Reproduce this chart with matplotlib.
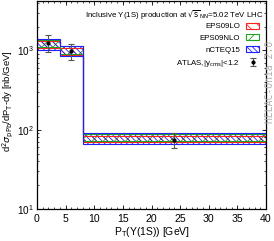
import numpy as np
import matplotlib
matplotlib.use('Agg')
import matplotlib.pyplot as plt
from matplotlib.patches import Patch

plt.rcParams['font.family'] = ['Liberation Sans', 'DejaVu Sans']
plt.rcParams['hatch.linewidth'] = 0.6

# pT bins [GeV]
bin_edges = [0, 4, 8, 40]

# theory bands (low, high) per bin [nb/GeV]
eps09lo_lo = [1060, 880, 70]
eps09lo_hi = [1300, 1080, 84]
eps09nlo_lo = [1100, 900, 72]
eps09nlo_hi = [1360, 1130, 89]
ncteq15_lo = [1020, 858, 66]
ncteq15_hi = [1400, 1146, 92]

# ATLAS data
atlas_x = [2, 6, 24]
atlas_y = [1250, 970, 74]
atlas_err_lo = [300, 206, 16]
atlas_err_hi = [310, 220, 17]


def draw_band(ax, lo, hi, color, hatch, label):
    x = np.array(bin_edges)
    lo_s = np.append(lo, lo[-1])
    hi_s = np.append(hi, hi[-1])
    ax.fill_between(x, lo_s, hi_s, step='post', facecolor='none',
                    edgecolor=color, hatch=hatch, linewidth=0)
    ax.step(x, lo_s, where='post', color=color, lw=0.8)
    ax.step(x, hi_s, where='post', color=color, lw=0.8)
    ax.plot([x[0], x[0]], [lo[0], hi[0]], color=color, lw=0.8)
    return Patch(facecolor='white', edgecolor=color, hatch=hatch, label=label, lw=0.8)


def main():
    fig = plt.figure(figsize=(2.74, 2.41), dpi=100)
    ax = fig.add_axes([0.135, 0.133, 0.836, 0.863])

    h1 = draw_band(ax, eps09lo_lo, eps09lo_hi, '#ff2020', '\\\\\\', 'EPS09LO')
    h2 = draw_band(ax, eps09nlo_lo, eps09nlo_hi, '#20a020', '///', 'EPS09NLO')
    h3 = draw_band(ax, ncteq15_lo, ncteq15_hi, '#2020ff', '\\\\\\\\\\\\', 'nCTEQ15')
    h4 = ax.errorbar(atlas_x, atlas_y, yerr=[atlas_err_lo, atlas_err_hi],
                     fmt='o', color='black', ms=2, ecolor='#555555',
                     elinewidth=0.8, capsize=2, capthick=0.8,
                     label='ATLAS,|y$_{\\rm cms}$|<1.2')

    ax.set_yscale('log')
    ax.set_xlim(0, 40)
    ax.set_ylim(10, 4200)
    ax.set_xticks(range(0, 41, 5))
    ax.xaxis.set_minor_locator(matplotlib.ticker.MultipleLocator(1))
    ax.tick_params(which='both', direction='in', top=True, right=True, labelsize=7.6)
    ax.tick_params(axis='y', labelsize=7.2, pad=2.5)
    ax.tick_params(which='major', length=3, width=0.6)
    ax.tick_params(which='minor', length=1.5, width=0.5)
    for s in ax.spines.values():
        s.set_linewidth(0.9)

    ax.set_xlabel('P$_{\\rm T}$(\u03a5(1S)) [GeV]', fontsize=7.5, labelpad=1)
    ax.set_ylabel('d$^2\\sigma_{\\rm pPb}$/dP$_{\\rm T}$-dy [nb/GeV]', fontsize=6.8)
    ax.yaxis.set_label_coords(-0.098, 0.52)

    ax.text(0.99, 0.965, 'Inclusive \u03a5(1S) production at $\\sqrt{\\rm s}_{\\rm NN}$=5.02 TeV LHC',
            transform=ax.transAxes, ha='right', va='top', fontsize=5.7)
    ax.legend(handles=[h1, h2, h3, h4], loc='upper right', bbox_to_anchor=(1.0, 0.93),
              frameon=False, markerfirst=False, fontsize=5.7, handlelength=1.6,
              handleheight=0.8, labelspacing=0.5, handletextpad=0.8)

    fig.text(0.985, 0.66, 'HELAC-Onia 2.0', rotation=90, ha='center', va='center',
             family='DejaVu Sans Mono', fontsize=7, color='#b0b0b0')

    fig.savefig('out.png', dpi=100)


if __name__ == '__main__':
    main()
